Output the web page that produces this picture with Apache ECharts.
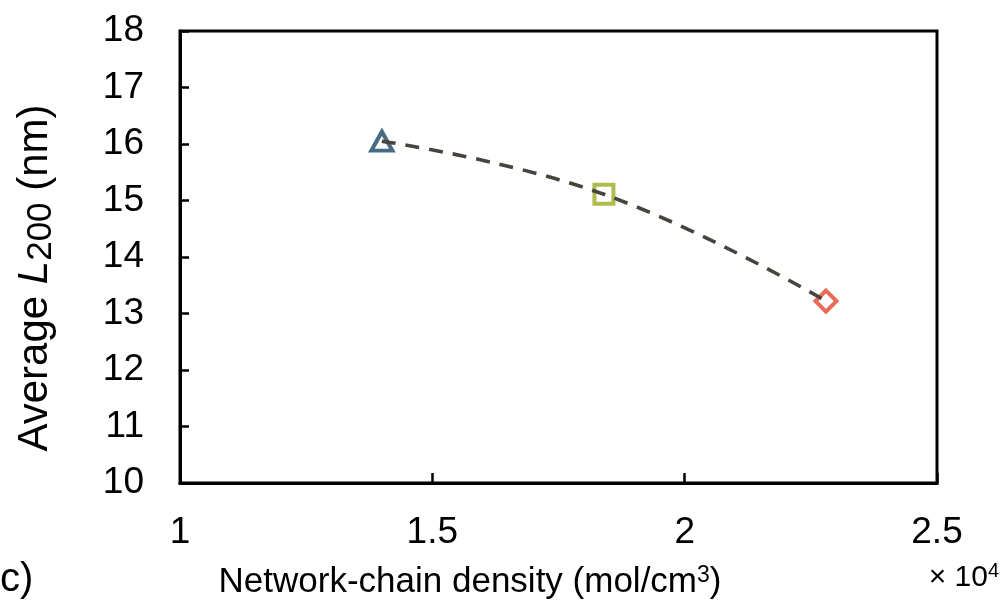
<!DOCTYPE html>
<html>
<head>
<meta charset="utf-8">
<script src="https://cdn.jsdelivr.net/npm/echarts@6/dist/echarts.min.js"></script>
<style>
html,body{margin:0;padding:0;background:#fff;}
#c{width:1004px;height:608px;}
</style>
</head>
<body>
<div id="c"></div>
<script>
// Data (network-chain density in 10^4 mol/cm3, average L200 in nm)
const densityX = [1.40, 1.84, 2.28];
const avgL200 = [16.05, 15.11, 13.22];
const markerShapes = ['triangle', 'rect', 'diamond'];
const markerColors = ['#1c4767', '#9aab22', '#e2472b'];
const xTicks = [1, 1.5, 2, 2.5];
const yTicks = [10, 11, 12, 13, 14, 15, 16, 17, 18];

const font = '"Liberation Sans", Arial, sans-serif';
const chart = echarts.init(document.getElementById('c'), null, {renderer: 'canvas'});

const markerSizes = {triangle: [21, 19], rect: 19, diamond: 21};
const scatterSeries = densityX.map((x, i) => ({
  type: 'scatter',
  data: [[x, avgL200[i]]],
  symbol: markerShapes[i],
  symbolSize: markerSizes[markerShapes[i]],
  itemStyle: {color: 'rgba(0,0,0,0)', borderColor: markerColors[i], borderWidth: 4},
  z: 2,
  silent: true
}));

chart.setOption({
  animation: false,
  backgroundColor: '#fff',
  grid: {left: 180, right: 67, top: 31, bottom: 125, show: true, borderColor: '#000', borderWidth: 3, backgroundColor: 'transparent'},
  xAxis: {
    type: 'value', min: xTicks[0], max: xTicks[xTicks.length - 1], interval: 0.5,
    axisLine: {show: true, lineStyle: {color: '#000', width: 3}},
    axisTick: {show: true, inside: true, length: 10, lineStyle: {color: '#000', width: 2.5}},
    splitLine: {show: false},
    axisLabel: {fontFamily: font, fontSize: 37, color: '#000', margin: 31,
      formatter: v => String(v)}
  },
  yAxis: {
    type: 'value', min: yTicks[0], max: yTicks[yTicks.length - 1], interval: 1,
    axisLine: {show: true, lineStyle: {color: '#000', width: 3}},
    axisTick: {show: true, inside: true, length: 9, lineStyle: {color: '#000', width: 2.5}},
    splitLine: {show: false},
    axisLabel: {fontFamily: font, fontSize: 37, color: '#000', margin: 36}
  },
  series: scatterSeries.concat([{
    type: 'line',
    data: densityX.map((x, i) => [x, avgL200[i]]),
    smooth: 0.45,
    symbol: 'none',
    lineStyle: {color: '#47443c', width: 3.6, type: [14, 10]},
    z: 5,
    silent: true
  }]),
  graphic: [
    {
      type: 'text', x: 35, y: 278, rotation: Math.PI / 2,
      style: {
        text: '{a|Average }{i|L}{s|200}{a| (nm)}',
        align: 'center', verticalAlign: 'middle', fill: '#000',
        rich: {
          a: {fontFamily: font, fontSize: 42, fill: '#000', lineHeight: 48, verticalAlign: 'middle'},
          i: {fontFamily: font, fontSize: 42, fontStyle: 'italic', fill: '#000', lineHeight: 48, verticalAlign: 'middle'},
          s: {fontFamily: font, fontSize: 35, fill: '#000', lineHeight: 48, verticalAlign: 'bottom'}
        }
      }
    },
    {
      type: 'text', x: 470, y: 582,
      style: {
        text: '{a|Network-chain density (mol/cm}{p|3}{a|)}',
        align: 'center', verticalAlign: 'middle',
        rich: {
          a: {fontFamily: font, fontSize: 35, fill: '#000', lineHeight: 42, verticalAlign: 'middle'},
          p: {fontFamily: font, fontSize: 23, fill: '#000', lineHeight: 42, verticalAlign: 'top', padding: [3, 0, 0, 0]}
        }
      }
    },
    {
      type: 'text', x: 0, y: 580,
      style: {text: 'c)', fontFamily: font, fontSize: 40, fill: '#000', align: 'left', verticalAlign: 'middle'}
    },
    {
      type: 'text', x: 999, y: 578,
      style: {
        text: '{a|× 10}{p|4}',
        align: 'right', verticalAlign: 'middle',
        rich: {
          a: {fontFamily: font, fontSize: 30, fill: '#000', lineHeight: 34, verticalAlign: 'middle'},
          p: {fontFamily: font, fontSize: 20, fill: '#000', lineHeight: 34, verticalAlign: 'top'}
        }
      }
    }
  ]
});
</script>
</body>
</html>
